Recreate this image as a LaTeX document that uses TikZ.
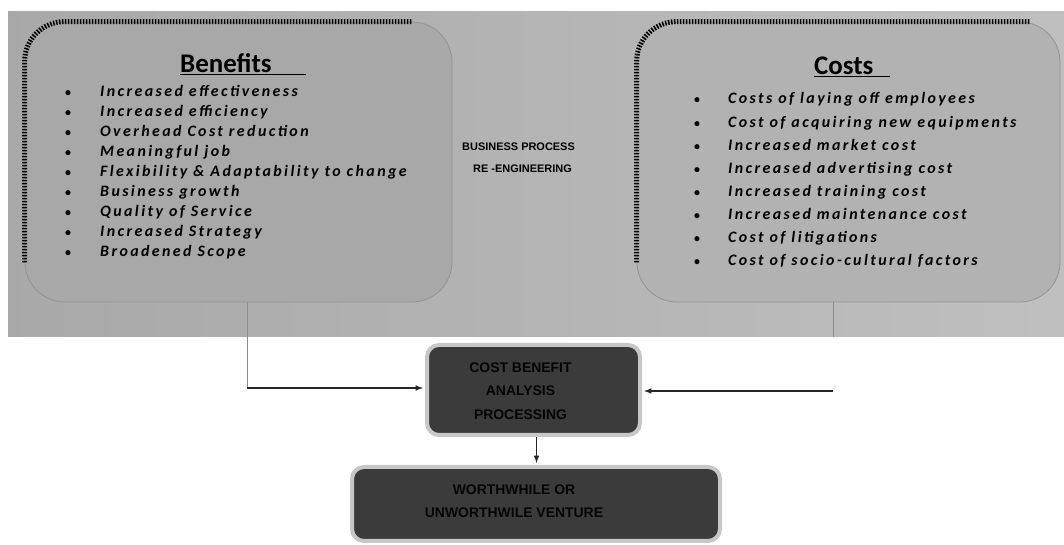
\documentclass[tikz,border=0pt]{standalone}
\usepackage{fontspec}
\setmainfont{Carlito}
\newfontfamily\listfont[LetterSpace=15]{Carlito}
\newfontfamily\capsfont{Liberation Sans}
\definecolor{boxink}{rgb}{0.02,0.02,0.02}
\tikzset{
  hatchedge/.style={line width=5bp, dash pattern=on 1.5bp off 1.5bp, black},
  listbox/.style={draw=black!42, line width=0.8bp, rounded corners=40bp},
  darkbox/.style={draw=black!22, line width=4bp, fill=black!77, rounded corners=12bp, inner sep=0pt},
  darktext/.style={inner sep=0pt, align=center, text=boxink, font=\capsfont\bfseries\fontsize{14}{23.5}\selectfont},
  titletext/.style={anchor=base west, inner sep=0pt, font=\bfseries\fontsize{27}{30}\selectfont},
  itemtext/.style={anchor=base west, inner sep=0pt, font=\listfont\bfseries\itshape\fontsize{16}{18}\selectfont},
  dotmark/.style={anchor=base, inner sep=0pt, font=\bfseries\fontsize{12}{14}\selectfont},
  bprtext/.style={anchor=base west, inner sep=0pt, font=\capsfont\bfseries\fontsize{11}{13}\selectfont},
  feedline/.style={black!45, line width=0.7bp},
  arrowline/.style={->, black!85, line width=1.5bp, shorten >=2bp},
}
\begin{document}
\begin{tikzpicture}[>=latex,line join=bevel]
\useasboundingbox (0bp,0bp) rectangle (1064bp,545bp);
%%
  % Background panel
  \shade[left color=black!34, middle color=black!16, right color=black!25] (8bp,208bp) rectangle (1064bp,533bp);
  % Node: benefits
  \node[listbox, fill=black!34, minimum width=427bp, minimum height=280bp] (benefits) at (238.5bp,383bp) {};
  \draw[hatchedge, rounded corners=40bp] ([yshift=40bp]benefits.south west) -- (benefits.north west) -- ([xshift=-40bp]benefits.north east);
  \node[titletext] (benefitstitle) at (180bp,472bp) {\underline{Benefits\hspace*{34bp}}};
  \foreach \txt [count=\i from 0] in {Increased effectiveness, Increased efficiency, Overhead Cost reduction,
      Meaningful job, Flexibility \& Adaptability to change, Business growth, Quality of Service,
      Increased Strategy, Broadened Scope}
  {
    \node[dotmark] (benefitdot\i) at (68bp,{448bp-20bp*\i}) {\textbullet};
    \node[itemtext] (benefititem\i) at (100bp,{448bp-20bp*\i}) {\txt};
  }
  % Node: costs
  \node[listbox, fill=black!30, minimum width=423bp, minimum height=280bp] (costs) at (848.5bp,383bp) {};
  \draw[hatchedge, rounded corners=40bp] ([yshift=40bp]costs.south west) -- (costs.north west) -- ([xshift=-30bp]costs.north east);
  \node[titletext] (coststitle) at (814bp,470bp) {\underline{Costs\hspace*{17bp}}};
  \foreach \txt [count=\i from 0] in {Costs of laying off employees, Cost of acquiring new equipments,
      Increased market cost, Increased advertising cost, Increased training cost,
      Increased maintenance cost, Cost of litigations, Cost of socio-cultural factors}
  {
    \node[dotmark] (costdot\i) at (697bp,{441bp-23.1bp*\i}) {\textbullet};
    \node[itemtext] (costitem\i) at (728bp,{441bp-23.1bp*\i}) {\txt};
  }
  % Node: bpr
  \node[bprtext] (bprtop) at (462bp,394bp) {BUSINESS PROCESS};
  \node[bprtext] (bprbottom) at (473bp,372bp) {RE -ENGINEERING};
  % Node: cba
  \node[darkbox, minimum width=213bp, minimum height=90bp] (cba) at (533.5bp,155bp) {};
  \node[darktext] (cbatext) at ([xshift=-13bp,yshift=-1bp]cba.center) {COST BENEFIT\\ANALYSIS\\PROCESSING};
  % Node: verdict
  \node[darkbox, minimum width=368bp, minimum height=74bp] (verdict) at (536bp,41bp) {};
  \node[darktext] (verdicttext) at ([xshift=-22bp,yshift=3bp]verdict.center) {WORTHWHILE OR\\UNWORTHWILE VENTURE};
  % Edge: benefits -> cba
  \coordinate (bturn) at (247bp,157bp);
  \draw[feedline] (benefits.south -| bturn) -- (bturn);
  \draw[arrowline] (bturn) -- (cba.west |- bturn);
  % Edge: costs -> cba
  \coordinate (cdrop) at (833bp,208bp);
  \coordinate (cturn) at (833bp,154bp);
  \draw[feedline] (costs.south -| cdrop) -- (cdrop);
  \draw[arrowline] (cturn) -- (cba.east |- cturn);
  % Edge: cba -> verdict
  \draw[arrowline] ([xshift=3bp]cba.south) -- ([xshift=3bp]cba.south |- verdict.north);
%
\end{tikzpicture}
\end{document}
